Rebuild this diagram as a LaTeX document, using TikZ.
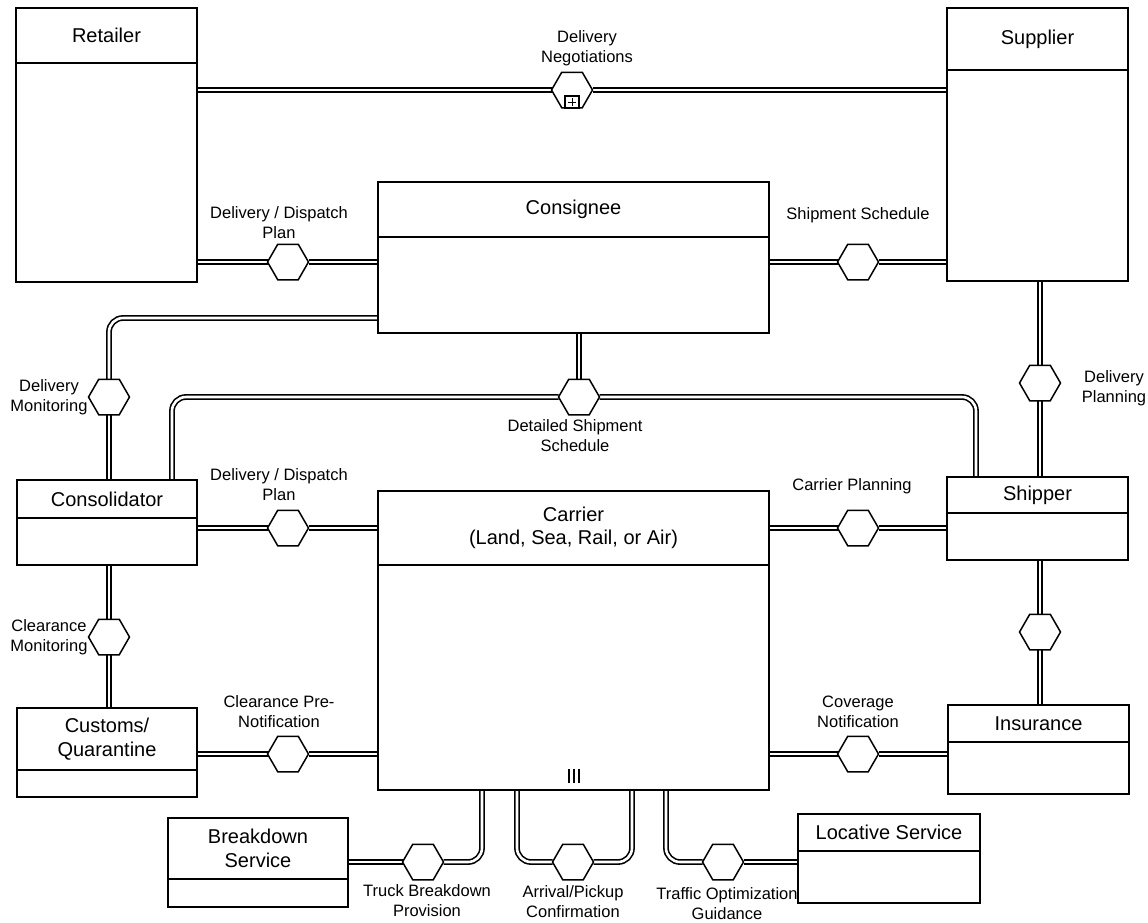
\documentclass[tikz,border=0pt]{standalone}
\usepackage{fontspec}
\setmainfont{Liberation Sans}
\usetikzlibrary{positioning,shapes.geometric,backgrounds}
\tikzset{
  head/.style  = {draw, line width=1.6pt, rectangle, inner sep=0pt, outer sep=0pt,
                  align=center, font=\fontsize{20pt}{23.5pt}\selectfont},
  body/.style  = {draw, line width=1.6pt, rectangle, inner sep=0pt, outer sep=0pt,
                  below=0pt of #1},
  hexa/.style  = {draw, line width=1.5pt, fill=white, regular polygon,
                  regular polygon sides=6, minimum size=41pt, inner sep=0pt, outer sep=0pt},
  lbl/.style   = {align=center, inner sep=0pt, font=\fontsize{16.5pt}{20pt}\selectfont},
  link/.style  = {double, double distance=2.6pt, line width=1.6pt, rounded corners=14pt},
  bars/.style  = {line width=2pt},
}

\begin{document}
\begin{tikzpicture}[x=1pt,y=-1pt]
\useasboundingbox (0,0) rectangle (1148,922);
% parties
\node[head, minimum width=181pt, minimum height=55pt] (retailerH) at (106.5,35.5) {Retailer};
\node[body=retailerH, minimum width=181pt, minimum height=219pt] (retailerB) {};
\node[head, minimum width=181pt, minimum height=62pt] (supplierH) at (1037.5,39) {Supplier};
\node[body=supplierH, minimum width=181pt, minimum height=211pt] (supplierB) {};
\node[head, minimum width=391pt, minimum height=55pt] (consigneeH) at (573.5,209.5) {Consignee};
\node[body=consigneeH, minimum width=391pt, minimum height=96pt] (consigneeB) {};
\node[head, minimum width=180pt, minimum height=38pt] (consolH) at (107,499) {Consolidator};
\node[body=consolH, minimum width=180pt, minimum height=47pt] (consolB) {};
\node[head, minimum width=391pt, minimum height=74pt] (carrierH) at (573.5,528) {Carrier\\(Land, Sea, Rail, or Air)};
\node[body=carrierH, minimum width=391pt, minimum height=225pt] (carrierB) {};
\node[head, minimum width=181pt, minimum height=36pt] (shipperH) at (1037.5,495) {Shipper};
\node[body=shipperH, minimum width=181pt, minimum height=47pt] (shipperB) {};
\node[head, minimum width=180pt, minimum height=62pt] (customsH) at (107,739) {Customs/\\Quarantine};
\node[body=customsH, minimum width=180pt, minimum height=27pt] (customsB) {};
\node[head, minimum width=181pt, minimum height=37pt] (insuranceH) at (1038.5,723.5) {Insurance};
\node[body=insuranceH, minimum width=181pt, minimum height=52pt] (insuranceB) {};
\node[head, minimum width=180pt, minimum height=61pt] (breakdownH) at (258,848.5) {Breakdown\\Service};
\node[body=breakdownH, minimum width=180pt, minimum height=28pt] (breakdownB) {};
\node[head, minimum width=182pt, minimum height=37pt] (locativeH) at (889,832.5) {Locative Service};
\node[body=locativeH, minimum width=182pt, minimum height=52pt] (locativeB) {};

% multi-instance marker
\foreach \dx in {-5,0,5}
  \draw[bars] ([xshift=\dx pt,yshift=7pt]carrierB.south) -- ++(0,-14);

% interactions
\node[hexa] (neg)       at (572,90)   {};
\node[hexa] (dispA)     at (288,262)  {};
\node[hexa] (shipSched) at (858,262)  {};
\node[hexa] (delMon)    at (109,397)  {};
\node[hexa] (detSched)  at (579,397)  {};
\node[hexa] (delPlan)   at (1040,383) {};
\node[hexa] (dispB)     at (288,528)  {};
\node[hexa] (carPlan)   at (858,528)  {};
\node[hexa] (clrMon)    at (109,637)  {};
\node[hexa] (insHex)    at (1040,632) {};
\node[hexa] (clrPre)    at (288,754)  {};
\node[hexa] (covNot)    at (858,754)  {};
\node[hexa] (truck)     at (423,862)  {};
\node[hexa] (arrival)   at (573,862)  {};
\node[hexa] (traffic)   at (723,862)  {};

% sub-process mark
\node[draw, line width=1.2pt, fill=white, minimum width=14pt, minimum height=12pt,
      inner sep=0pt] (negMark) at (572,102) {};
\draw[line width=1pt] ([xshift=-4pt]negMark.center) -- ([xshift=4pt]negMark.center);
\draw[line width=1pt] ([yshift=-4pt]negMark.center) -- ([yshift=4pt]negMark.center);

% labels
\node[lbl] (negL)       at (587,48)   {Delivery\\Negotiations};
\node[lbl] (dispAL)     at (279,223)  {Delivery / Dispatch\\Plan};
\node[lbl] (shipSchedL) at (858,215)  {Shipment Schedule};
\node[lbl] (delMonL)    at (49,397)   {Delivery\\Monitoring};
\node[lbl] (detSchedL)  at (575,436)  {Detailed Shipment\\Schedule};
\node[lbl] (delPlanL)   at (1114,388) {Delivery\\Planning};
\node[lbl] (dispBL)     at (279,485)  {Delivery / Dispatch\\Plan};
\node[lbl] (carPlanL)   at (852,486)  {Carrier Planning};
\node[lbl] (clrMonL)    at (49,637)   {Clearance\\Monitoring};
\node[lbl] (clrPreL)    at (279,712)  {Clearance Pre-\\Notification};
\node[lbl] (covNotL)    at (858,712)  {Coverage\\Notification};
\node[lbl] (truckL)     at (427,901)  {Truck Breakdown\\Provision};
\node[lbl] (arrivalL)   at (573,902)  {Arrival/Pickup\\Confirmation};
\node[lbl] (trafficL)   at (727,904)  {Traffic Optimization\\Guidance};

\begin{scope}[on background layer]
  % top row
  \draw[link] (retailerB.east |- neg) -- (neg.west);
  \draw[link] (neg.east) -- (supplierB.west |- neg);
  \draw[link] (retailerB.east |- dispA) -- (dispA.west);
  \draw[link] (dispA.east) -- (consigneeB.west |- dispA);
  \draw[link] (consigneeB.east |- shipSched) -- (shipSched.west);
  \draw[link] (shipSched.east) -- (supplierB.west |- shipSched);
  % consignee downwards
  \draw[link] ([yshift=15pt]consigneeB.south west) -| (delMon.north);
  \draw[link] (delMon.south) -- (delMon.south |- consolH.north);
  \draw[link] (consigneeB.south -| detSched) -- (detSched.north);
  \draw[link] (detSched.west) -| ([xshift=155pt]consolH.north west);
  \draw[link] (detSched.east) -| ([xshift=29pt]shipperH.north west);
  \draw[link] (supplierB.south -| delPlan) -- (delPlan.north);
  \draw[link] (delPlan.south) -- (delPlan.south |- shipperH.north);
  % middle row
  \draw[link] (consolB.east |- dispB) -- (dispB.west);
  \draw[link] (dispB.east) -- (carrierH.west |- dispB);
  \draw[link] (carrierH.east |- carPlan) -- (carPlan.west);
  \draw[link] (carPlan.east) -- (shipperB.west |- carPlan);
  \draw[link] (consolB.south -| clrMon) -- (clrMon.north);
  \draw[link] (clrMon.south) -- (clrMon.south |- customsH.north);
  \draw[link] (shipperB.south -| insHex) -- (insHex.north);
  \draw[link] (insHex.south) -- (insHex.south |- insuranceH.north);
  % lower row
  \draw[link] (customsH.east |- clrPre) -- (clrPre.west);
  \draw[link] (clrPre.east) -- (carrierB.west |- clrPre);
  \draw[link] (carrierB.east |- covNot) -- (covNot.west);
  \draw[link] (covNot.east) -- (insuranceB.west |- covNot);
  % services
  \draw[link] (breakdownH.east |- truck) -- (truck.west);
  \draw[link] (truck.east) -| ([xshift=104pt]carrierB.south west);
  \draw[link] ([xshift=139pt]carrierB.south west) |- (arrival.west);
  \draw[link] (arrival.east) -| ([xshift=254pt]carrierB.south west);
  \draw[link] ([xshift=288pt]carrierB.south west) |- (traffic.west);
  \draw[link] (traffic.east) -- (locativeB.west |- traffic);
\end{scope}
\end{tikzpicture}
\end{document}
